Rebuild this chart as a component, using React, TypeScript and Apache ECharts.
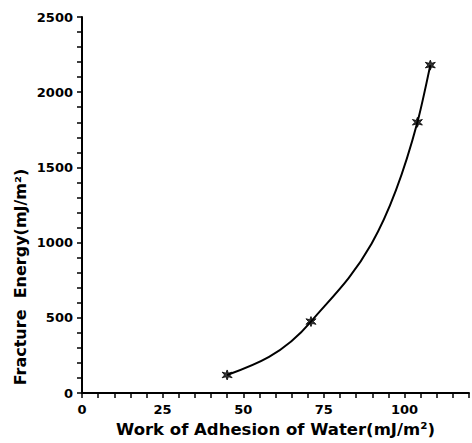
import React, { useEffect, useRef } from "react";
import * as echarts from "echarts";

const workAdhesion = [45, 71, 104, 108];
const fractureEnergy = [120, 475, 1800, 2180];
const xTicks = [0, 25, 50, 75, 100];
const yTicks = [0, 500, 1000, 1500, 2000, 2500];

const STAR =
  "path://M5,0 L6.2,3.2 L9.8,2.2 L7.4,5 L9.8,7.8 L6.2,6.8 L5,10 L3.8,6.8 L0.2,7.8 L2.6,5 L0.2,2.2 L3.8,3.2 Z";

// monotone cubic tangents (Fritsch–Carlson style) for a smooth curve through the data points
function tangents(xs: number[], ys: number[]): number[] {
  const n = xs.length;
  const h: number[] = [];
  const s: number[] = [];
  for (let i = 0; i < n - 1; i++) {
    h.push(xs[i + 1] - xs[i]);
    s.push((ys[i + 1] - ys[i]) / (xs[i + 1] - xs[i]));
  }
  const m: number[] = new Array(n).fill(0);
  for (let i = 1; i < n - 1; i++) {
    const p = (s[i - 1] * h[i] + s[i] * h[i - 1]) / (h[i - 1] + h[i]);
    m[i] = (Math.sign(s[i - 1]) + Math.sign(s[i])) * Math.min(Math.abs(s[i - 1]), Math.abs(s[i]), 0.5 * Math.abs(p));
  }
  m[0] = (3 * s[0] - m[1]) / 2;
  m[n - 1] = (3 * s[n - 2] - m[n - 2]) / 2;
  return m;
}

export default function App() {
  const ref = useRef<HTMLDivElement>(null);
  useEffect(() => {
    if (!ref.current) return;
    const chart = echarts.init(ref.current, undefined, { renderer: "svg" });
    const font = "DejaVu Sans";
    const pts = workAdhesion.map((x, i) => [x, fractureEnergy[i]]);
    const m = tangents(workAdhesion, fractureEnergy);
    chart.setOption({
      animation: false,
      backgroundColor: "#ffffff",
      grid: { left: 82, top: 17, bottom: 50, right: -5, containLabel: false },
      xAxis: {
        type: "value",
        min: 0,
        max: 120,
        interval: 25,
        name: "Work of Adhesion of Water(mJ/m²)",
        nameLocation: "middle",
        nameGap: 28,
        nameTextStyle: { fontFamily: font, fontWeight: "bold", fontSize: 16.5, color: "#000" },
        axisLine: { show: true, lineStyle: { color: "#000", width: 2 } },
        axisTick: { show: true, inside: false, length: 5, lineStyle: { color: "#000", width: 1.5 } },
        minorTick: { show: true, splitNumber: 5, length: 5, lineStyle: { color: "#000", width: 1.5 } },
        splitLine: { show: false },
        axisLabel: {
          margin: 10,
          fontFamily: font,
          fontWeight: "bold",
          fontSize: 13,
          color: "#000",
          formatter: (v: number) => (xTicks.includes(v) ? String(v) : ""),
        },
      },
      yAxis: {
        type: "value",
        min: 0,
        max: 2500,
        interval: 500,
        axisLine: { show: true, lineStyle: { color: "#000", width: 2 } },
        axisTick: { show: true, inside: false, length: 5, lineStyle: { color: "#000", width: 1.5 } },
        minorTick: { show: true, splitNumber: 5, length: 5, lineStyle: { color: "#000", width: 1.5 } },
        splitLine: { show: false },
        axisLabel: {
          margin: 9,
          fontFamily: font,
          fontWeight: "bold",
          fontSize: 13,
          color: "#000",
          formatter: (v: number) => (yTicks.includes(v) ? String(v) : ""),
        },
      },
      graphic: [
        {
          type: "text",
          x: 20,
          y: 277,
          rotation: Math.PI / 2,
          style: {
            text: "Fracture  Energy(mJ/m²)",
            fontFamily: font,
            fontWeight: "bold",
            fontSize: 16,
            fill: "#000",
            align: "center",
            verticalAlign: "middle",
          },
        },
      ],
      series: [
        {
          type: "custom",
          data: pts,
          renderItem: (params: any, api: any) => {
            if (params.dataIndex !== 0) return null;
            const xs = workAdhesion;
            const ys = fractureEnergy;
            const p0 = api.coord([xs[0], ys[0]]);
            let d = `M${p0[0]},${p0[1]}`;
            for (let i = 0; i < xs.length - 1; i++) {
              const h = xs[i + 1] - xs[i];
              const c1 = api.coord([xs[i] + h / 3, ys[i] + (m[i] * h) / 3]);
              const c2 = api.coord([xs[i + 1] - h / 3, ys[i + 1] - (m[i + 1] * h) / 3]);
              const e = api.coord([xs[i + 1], ys[i + 1]]);
              d += ` C${c1[0]},${c1[1]} ${c2[0]},${c2[1]} ${e[0]},${e[1]}`;
            }
            return {
              type: "path",
              shape: { pathData: d },
              style: { fill: "none", stroke: "#000", lineWidth: 2 },
            };
          },
          z: 2,
        },
        {
          type: "scatter",
          data: pts,
          symbol: STAR,
          symbolSize: 10,
          itemStyle: { color: "#000", borderColor: "#000", borderWidth: 1 },
          z: 3,
        },
      ],
    });
    return () => chart.dispose();
  }, []);
  return <div ref={ref} style={{ width: 472, height: 443, position: "absolute", left: 0, top: 0 }} />;
}
